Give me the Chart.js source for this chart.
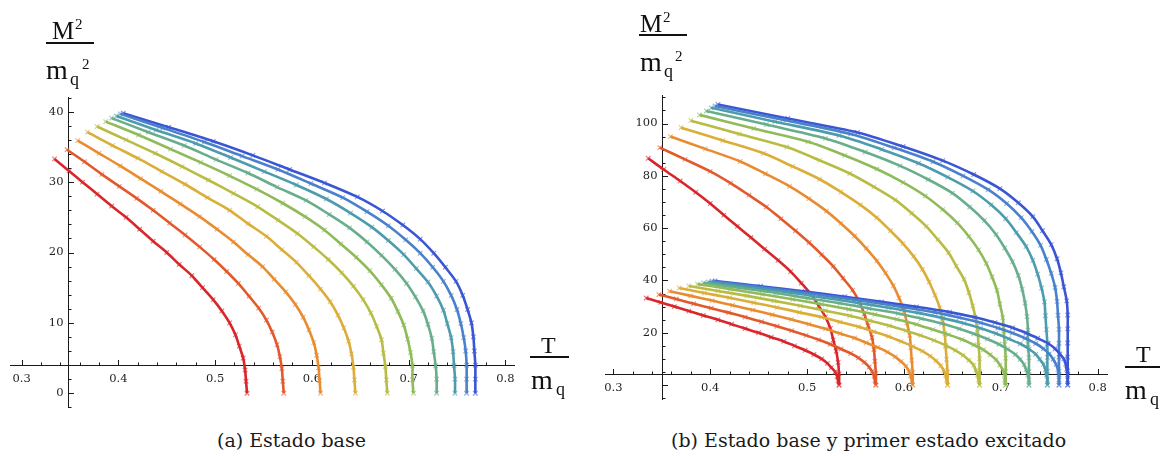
<!DOCTYPE html>
<html>
<head>
<meta charset="utf-8">
<script src="https://cdn.jsdelivr.net/npm/chart.js@4.4.1/dist/chart.umd.min.js"></script>
<style>
  body { margin: 0; background: #fff; }
  #page { position: relative; width: 1160px; height: 456px; overflow: hidden; font-family: "Liberation Serif", serif; color: #111; }
  canvas { position: absolute; top: 0; }
  .t { position: absolute; line-height: 1; white-space: nowrap; }
  .bar { position: absolute; height: 1.5px; background: #111; }
  .cap { position: absolute; top: 431px; font-family: "DejaVu Serif", serif; font-size: 19px; line-height: 1; white-space: nowrap; color: #1a1a1a; }
</style>
</head>
<body>
<div id="page">
  <canvas id="baseChart" width="580" height="420" style="left:0"></canvas>
  <canvas id="bothChart" width="580" height="420" style="left:580px"></canvas>

  <!-- y axis title, panel (a) -->
  <span class="t" style="left:52px; top:18px; font-size:25px">M</span>
  <span class="t" style="left:75px; top:17px; font-size:15px">2</span>
  <div class="bar" style="left:46px; top:42px; width:48px"></div>
  <span class="t" style="left:46px; top:56px; font-size:28px">m</span>
  <span class="t" style="left:70px; top:70px; font-size:18px">q</span>
  <span class="t" style="left:82px; top:57px; font-size:15px">2</span>

  <!-- x axis title, panel (a) -->
  <span class="t" style="left:541px; top:333px; font-size:24px">T</span>
  <div class="bar" style="left:530px; top:356px; width:39px"></div>
  <span class="t" style="left:531px; top:366px; font-size:28px">m</span>
  <span class="t" style="left:556px; top:380px; font-size:18px">q</span>

  <!-- y axis title, panel (b) -->
  <span class="t" style="left:640px; top:11px; font-size:25px">M</span>
  <span class="t" style="left:663px; top:10px; font-size:15px">2</span>
  <div class="bar" style="left:639px; top:34px; width:48px"></div>
  <span class="t" style="left:640px; top:48px; font-size:28px">m</span>
  <span class="t" style="left:664px; top:62px; font-size:18px">q</span>
  <span class="t" style="left:675px; top:49px; font-size:15px">2</span>

  <!-- x axis title, panel (b) -->
  <span class="t" style="left:1136px; top:342px; font-size:24px">T</span>
  <div class="bar" style="left:1125px; top:366px; width:35px"></div>
  <span class="t" style="left:1125px; top:376px; font-size:28px">m</span>
  <span class="t" style="left:1150px; top:390px; font-size:18px">q</span>

  <div class="cap" style="left:217px">(a) Estado base</div>
  <div class="cap" style="left:671px">(b) Estado base y primer estado excitado</div>
</div>

<script>
// Ground state, one row per curve (red -> blue): M^2/mq^2 and T/mq
const groundM2 = [
  [33.3, 31.6, 30.0, 28.3, 26.6, 25.0, 23.3, 21.6, 20.0, 18.3, 16.7, 15.0, 13.3, 11.7, 10.0, 8.3, 6.7, 5.0, 3.3, 1.7, 0],
  [34.6, 32.9, 31.1, 29.4, 27.7, 26.0, 24.2, 22.5, 20.8, 19.0, 17.3, 15.6, 13.8, 12.1, 10.4, 8.7, 6.9, 5.2, 3.5, 1.7, 0],
  [35.9, 34.1, 32.3, 30.5, 28.7, 26.9, 25.1, 23.3, 21.5, 19.7, 18.0, 16.2, 14.4, 12.6, 10.8, 9.0, 7.2, 5.4, 3.6, 1.8, 0],
  [37.1, 35.2, 33.4, 31.5, 29.7, 27.8, 26.0, 24.1, 22.3, 20.4, 18.6, 16.7, 14.8, 13.0, 11.1, 9.3, 7.4, 5.6, 3.7, 1.9, 0],
  [37.9, 36.0, 34.1, 32.2, 30.3, 28.4, 26.5, 24.6, 22.7, 20.8, 19.0, 17.1, 15.2, 13.3, 11.4, 9.5, 7.6, 5.7, 3.8, 1.9, 0],
  [38.6, 36.7, 34.7, 32.8, 30.9, 29.0, 27.0, 25.1, 23.2, 21.2, 19.3, 17.4, 15.4, 13.5, 11.6, 9.7, 7.7, 5.8, 3.9, 1.9, 0],
  [39.1, 37.1, 35.2, 33.2, 31.3, 29.3, 27.4, 25.4, 23.5, 21.5, 19.6, 17.6, 15.6, 13.7, 11.7, 9.8, 7.8, 5.9, 3.9, 2.0, 0],
  [39.4, 37.4, 35.5, 33.5, 31.5, 29.6, 27.6, 25.6, 23.6, 21.7, 19.7, 17.7, 15.8, 13.8, 11.8, 9.9, 7.9, 5.9, 3.9, 2.0, 0],
  [39.7, 37.7, 35.7, 33.7, 31.8, 29.8, 27.8, 25.8, 23.8, 21.8, 19.9, 17.9, 15.9, 13.9, 11.9, 9.9, 7.9, 6.0, 4.0, 2.0, 0],
  [39.8, 37.8, 35.8, 33.8, 31.8, 29.9, 27.9, 25.9, 23.9, 21.9, 19.9, 17.9, 15.9, 13.9, 11.9, 10.0, 8.0, 6.0, 4.0, 2.0, 0]
];
const groundT = [
  [0.334, 0.349, 0.363, 0.378, 0.393, 0.408, 0.422, 0.436, 0.450, 0.463, 0.476, 0.487, 0.498, 0.507, 0.515, 0.521, 0.525, 0.529, 0.531, 0.532, 0.533],
  [0.347, 0.365, 0.383, 0.401, 0.419, 0.436, 0.453, 0.469, 0.484, 0.499, 0.512, 0.524, 0.535, 0.545, 0.553, 0.559, 0.564, 0.567, 0.569, 0.570, 0.571],
  [0.358, 0.380, 0.402, 0.423, 0.444, 0.464, 0.484, 0.502, 0.519, 0.534, 0.549, 0.561, 0.573, 0.583, 0.591, 0.597, 0.602, 0.605, 0.607, 0.608, 0.609],
  [0.368, 0.394, 0.420, 0.445, 0.469, 0.492, 0.515, 0.534, 0.553, 0.569, 0.584, 0.597, 0.609, 0.619, 0.627, 0.633, 0.638, 0.641, 0.643, 0.644, 0.645],
  [0.378, 0.408, 0.438, 0.466, 0.493, 0.519, 0.544, 0.565, 0.585, 0.602, 0.617, 0.631, 0.643, 0.653, 0.661, 0.667, 0.672, 0.674, 0.676, 0.677, 0.678],
  [0.387, 0.421, 0.454, 0.485, 0.515, 0.543, 0.570, 0.593, 0.613, 0.630, 0.646, 0.660, 0.672, 0.682, 0.689, 0.695, 0.699, 0.702, 0.704, 0.704, 0.705],
  [0.393, 0.431, 0.468, 0.501, 0.534, 0.564, 0.594, 0.618, 0.639, 0.657, 0.672, 0.686, 0.698, 0.707, 0.715, 0.720, 0.724, 0.726, 0.728, 0.729, 0.729],
  [0.398, 0.439, 0.480, 0.516, 0.551, 0.584, 0.615, 0.640, 0.662, 0.679, 0.695, 0.708, 0.720, 0.729, 0.736, 0.740, 0.744, 0.746, 0.747, 0.748, 0.748],
  [0.402, 0.446, 0.489, 0.528, 0.565, 0.599, 0.632, 0.657, 0.679, 0.697, 0.712, 0.725, 0.736, 0.744, 0.750, 0.754, 0.757, 0.759, 0.760, 0.760, 0.760],
  [0.405, 0.452, 0.498, 0.539, 0.577, 0.613, 0.647, 0.673, 0.694, 0.712, 0.726, 0.738, 0.749, 0.756, 0.761, 0.765, 0.767, 0.768, 0.769, 0.769, 0.769]
];

// First excited state, same ordering
const excitedM2 = [
  [86.7, 82.4, 78.0, 73.7, 69.4, 65.0, 60.7, 56.4, 52.0, 47.7, 43.4, 39.0, 34.7, 30.3, 26.0, 21.7, 17.3, 13.0, 8.7, 4.3, 0],
  [90.8, 86.3, 81.7, 77.2, 72.6, 68.1, 63.6, 59.0, 54.5, 49.9, 45.4, 40.9, 36.3, 31.8, 27.2, 22.7, 18.2, 13.6, 9.1, 4.5, 0],
  [95.0, 90.3, 85.5, 80.8, 76.0, 71.3, 66.5, 61.8, 57.0, 52.3, 47.5, 42.8, 38.0, 33.3, 28.5, 23.8, 19.0, 14.3, 9.5, 4.8, 0],
  [98.4, 93.5, 88.6, 83.6, 78.7, 73.8, 68.9, 64.0, 59.0, 54.1, 49.2, 44.3, 39.4, 34.4, 29.5, 24.6, 19.7, 14.8, 9.8, 4.9, 0],
  [101.1, 96.0, 91.0, 85.9, 80.9, 75.8, 70.8, 65.7, 60.7, 55.6, 50.6, 45.5, 40.4, 35.4, 30.3, 25.3, 20.2, 15.2, 10.1, 5.1, 0],
  [103.3, 98.1, 93.0, 87.8, 82.6, 77.5, 72.3, 67.1, 62.0, 56.8, 51.7, 46.5, 41.3, 36.2, 31.0, 25.8, 20.7, 15.5, 10.3, 5.2, 0],
  [104.8, 99.6, 94.3, 89.1, 83.8, 78.6, 73.4, 68.1, 62.9, 57.6, 52.4, 47.2, 41.9, 36.7, 31.4, 26.2, 21.0, 15.7, 10.5, 5.2, 0],
  [106.0, 100.7, 95.4, 90.1, 84.8, 79.5, 74.2, 68.9, 63.6, 58.3, 53.0, 47.7, 42.4, 37.1, 31.8, 26.5, 21.2, 15.9, 10.6, 5.3, 0],
  [106.7, 101.4, 96.0, 90.7, 85.4, 80.0, 74.7, 69.4, 64.0, 58.7, 53.4, 48.0, 42.7, 37.3, 32.0, 26.7, 21.3, 16.0, 10.7, 5.3, 0],
  [107.3, 101.9, 96.6, 91.2, 85.8, 80.5, 75.1, 69.7, 64.4, 59.0, 53.7, 48.3, 42.9, 37.6, 32.2, 26.8, 21.5, 16.1, 10.7, 5.4, 0]
];
const excitedT = [
  [0.336, 0.352, 0.369, 0.385, 0.400, 0.414, 0.428, 0.442, 0.456, 0.470, 0.483, 0.494, 0.504, 0.512, 0.519, 0.524, 0.527, 0.530, 0.532, 0.533, 0.533],
  [0.348, 0.374, 0.400, 0.421, 0.440, 0.458, 0.473, 0.488, 0.502, 0.515, 0.527, 0.537, 0.547, 0.554, 0.559, 0.563, 0.567, 0.569, 0.570, 0.571, 0.571],
  [0.359, 0.395, 0.431, 0.457, 0.482, 0.502, 0.520, 0.535, 0.549, 0.561, 0.572, 0.581, 0.589, 0.595, 0.600, 0.603, 0.606, 0.607, 0.608, 0.609, 0.609],
  [0.370, 0.413, 0.455, 0.485, 0.513, 0.535, 0.555, 0.572, 0.586, 0.599, 0.610, 0.619, 0.626, 0.632, 0.637, 0.640, 0.642, 0.643, 0.644, 0.645, 0.645],
  [0.380, 0.430, 0.479, 0.513, 0.544, 0.569, 0.591, 0.608, 0.623, 0.635, 0.646, 0.654, 0.662, 0.667, 0.671, 0.674, 0.676, 0.677, 0.678, 0.678, 0.678],
  [0.389, 0.445, 0.501, 0.539, 0.572, 0.599, 0.622, 0.640, 0.655, 0.667, 0.677, 0.685, 0.691, 0.696, 0.699, 0.702, 0.703, 0.704, 0.705, 0.705, 0.705],
  [0.396, 0.458, 0.519, 0.560, 0.596, 0.625, 0.650, 0.668, 0.683, 0.695, 0.704, 0.712, 0.718, 0.722, 0.725, 0.727, 0.728, 0.728, 0.729, 0.729, 0.729],
  [0.401, 0.467, 0.533, 0.577, 0.615, 0.645, 0.671, 0.690, 0.705, 0.716, 0.726, 0.733, 0.738, 0.742, 0.745, 0.746, 0.747, 0.748, 0.748, 0.748, 0.748],
  [0.405, 0.475, 0.545, 0.590, 0.630, 0.661, 0.687, 0.706, 0.721, 0.732, 0.741, 0.747, 0.752, 0.756, 0.758, 0.759, 0.760, 0.760, 0.760, 0.760, 0.760],
  [0.408, 0.480, 0.552, 0.599, 0.640, 0.672, 0.699, 0.718, 0.733, 0.743, 0.752, 0.758, 0.762, 0.765, 0.768, 0.769, 0.769, 0.769, 0.769, 0.769, 0.769]
];

const curveColors = ['#d9262a', '#e2592c', '#e98c31', '#dbae39', '#b8bc44',
                     '#8fbb5a', '#68ae8c', '#4d9cad', '#4a80cc', '#3b56d4'];

const xTicks = [0.3, 0.4, 0.5, 0.6, 0.7, 0.8];
const yTicksBase = [0, 10, 20, 30, 40];
const yTicksBoth = [20, 40, 60, 80, 100];

function fade(hex, a) {
  const n = parseInt(hex.slice(1), 16);
  return `rgba(${n >> 16},${(n >> 8) & 255},${n & 255},${a})`;
}

function curve(ts, ms, color) {
  return {
    data: ts.map((t, i) => ({ x: t, y: ms[i] })),
    showLine: true,
    borderColor: color,
    borderWidth: 2.6,
    tension: 0.3,
    pointStyle: 'crossRot',
    pointRadius: 3.2,
    pointBorderWidth: 1.2,
    pointBorderColor: fade(color, 0.6),
    pointBackgroundColor: 'transparent',
    pointHoverRadius: 0
  };
}

// Mathematica-style axes: crossing inside the frame, ticks pointing inwards
const crossedAxes = {
  id: 'crossedAxes',
  beforeDatasetsDraw(chart, args, o) {
    const { ctx, chartArea: a, scales: { x, y } } = chart;
    const ax = Math.round(x.getPixelForValue(o.cross[0])) + 0.5;
    const ay = Math.round(y.getPixelForValue(o.cross[1])) + 0.5;
    ctx.save();
    ctx.strokeStyle = '#1a1a1a';
    ctx.lineWidth = 1;
    ctx.beginPath();
    ctx.moveTo(a.left, ay); ctx.lineTo(a.right, ay);
    ctx.moveTo(ax, a.top); ctx.lineTo(ax, a.bottom);
    for (let i = 15; i <= 40; i++) {
      const px = Math.round(x.getPixelForValue(i * 0.02)) + 0.5;
      const len = i % 5 === 0 ? 5.5 : 3;
      ctx.moveTo(px, ay); ctx.lineTo(px, ay - len);
    }
    for (let v = o.yMinor[0]; v <= o.yMinor[1]; v += o.yMinor[2]) {
      const py = Math.round(y.getPixelForValue(v)) + 0.5;
      const len = v % o.yMajor === 0 ? 5.5 : 3;
      ctx.moveTo(ax, py); ctx.lineTo(ax + len, py);
    }
    ctx.stroke();

    ctx.fillStyle = '#1e1e1e';
    ctx.font = '11.5px "DejaVu Serif"';
    ctx.textAlign = 'center';
    ctx.textBaseline = 'top';
    xTicks.forEach(v => ctx.fillText(v.toFixed(1), x.getPixelForValue(v), ay + 8));
    ctx.textAlign = 'right';
    ctx.textBaseline = 'middle';
    o.yLabels.forEach(v => ctx.fillText(String(v), ax - 5, y.getPixelForValue(v)));
    ctx.restore();
  }
};

function panel(id, datasets, xr, yr, pad, axes) {
  new Chart(document.getElementById(id), {
    type: 'scatter',
    data: { datasets },
    options: {
      responsive: false,
      animation: false,
      events: [],
      layout: { padding: pad },
      plugins: { legend: { display: false }, tooltip: { enabled: false }, crossedAxes: axes },
      scales: {
        x: { type: 'linear', min: xr[0], max: xr[1], display: false },
        y: { type: 'linear', min: yr[0], max: yr[1], display: false }
      }
    },
    plugins: [crossedAxes]
  });
}

const baseSets = groundT.map((t, i) => curve(t, groundM2[i], curveColors[i]));
const bothSets = groundT.map((t, i) => curve(t, groundM2[i], curveColors[i]))
  .concat(excitedT.map((t, i) => curve(t, excitedM2[i], curveColors[i])));

panel('baseChart', baseSets, [0.288, 0.810], [-2.1, 42.1],
  { left: 10, right: 65, top: 97, bottom: 12 },
  { cross: [0.348, 4.0], yMinor: [-2, 42, 2], yMajor: 10, yLabels: yTicksBase });

panel('bothChart', bothSets, [0.2914, 0.8106], [-5.7, 110.9],
  { left: 25, right: 52, top: 95, bottom: 20 },
  { cross: [0.3506, 4.1], yMinor: [-5, 110, 5], yMajor: 20, yLabels: yTicksBoth });
</script>
</body>
</html>
